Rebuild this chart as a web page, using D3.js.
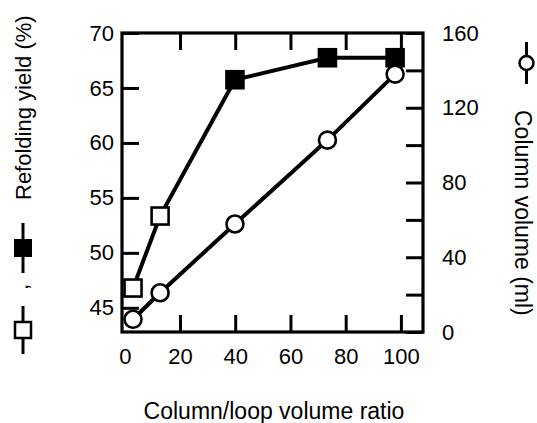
<!DOCTYPE html>
<html>
<head>
<meta charset="utf-8">
<script src="https://cdn.jsdelivr.net/npm/d3@7"></script>
<style>
  body { margin: 0; background: #fff; }
  text { font-family: "Liberation Sans", Arial, Helvetica, sans-serif; fill: #000; }
</style>
</head>
<body>
<script>
"use strict"

// data
var ratio = [3, 12.8, 39.9, 73.4, 97.9];
var yieldPct = [46.8, 53.35, 65.75, 67.75, 67.75];
var yieldFilled = [false, false, true, true, true];
var columnVolume = [6.8, 21, 57.8, 102.7, 138];

var xTicks = [0, 20, 40, 60, 80, 100];
var yieldTicks = [45, 50, 55, 60, 65, 70];
var volumeTicks = [0, 20, 40, 60, 80, 100, 120, 140, 160];

var W = 537, H = 423;
var plotL = 122, plotR = 423, plotT = 33, plotB = 332;

var svg = d3.select("body").append("svg")
    .attr("width", W)
    .attr("height", H);

var x = d3.scaleLinear().domain([-1, 108]).range([plotL, plotR]);
var yL = d3.scaleLinear().domain([42.8, 70]).range([plotB, plotT]);
var yR = d3.scaleLinear().domain([0, 160]).range([plotB, plotT]);

var tickLen = 17;

function styleAxis(g) {
    g.select(".domain").remove();
    g.selectAll(".tick line").attr("stroke", "#000").attr("stroke-width", 3);
    g.selectAll(".tick text")
        .attr("font-size", "22px")
        .attr("font-family", "'Liberation Sans', Arial, sans-serif")
        .attr("fill", "#000");
}

// bottom axis
svg.append("g")
    .attr("transform", "translate(0," + plotB + ")")
    .call(d3.axisBottom(x).tickValues(xTicks).tickSizeInner(-tickLen).tickSizeOuter(0).tickPadding(16))
    .call(styleAxis)
    .selectAll(".tick line").filter(function(d) { return d == 0; }).remove();

// top axis, ticks only
svg.append("g")
    .attr("transform", "translate(0," + plotT + ")")
    .call(d3.axisTop(x).tickValues(xTicks.slice(1)).tickSizeInner(-tickLen).tickSizeOuter(0).tickFormat(""))
    .call(styleAxis);

// left axis (refolding yield)
svg.append("g")
    .attr("transform", "translate(" + plotL + ",0)")
    .call(d3.axisLeft(yL).tickValues(yieldTicks).tickSizeInner(-tickLen).tickSizeOuter(0).tickPadding(8))
    .call(styleAxis);

// right axis (column volume)
svg.append("g")
    .attr("transform", "translate(" + plotR + ",0)")
    .call(d3.axisRight(yR).tickValues(volumeTicks).tickSizeInner(-tickLen).tickSizeOuter(0).tickPadding(19)
        .tickFormat(function(d) { return d % 40 == 0 ? d : ""; }))
    .call(styleAxis);

// frame
svg.append("rect")
    .attr("x", plotL)
    .attr("y", plotT)
    .attr("width", plotR - plotL)
    .attr("height", plotB - plotT)
    .attr("fill", "none")
    .attr("stroke", "#000")
    .attr("stroke-width", 3.2);

// yield series
var yieldLine = d3.line()
    .x(function(d, i) { return x(ratio[i]); })
    .y(function(d) { return yL(d); });

svg.append("path")
    .datum(yieldPct)
    .attr("d", yieldLine)
    .attr("fill", "none")
    .attr("stroke", "#000")
    .attr("stroke-width", 4);

var sq = 17;
svg.selectAll(".sq")
    .data(yieldPct)
  .enter().append("rect")
    .attr("class", "sq")
    .attr("x", function(d, i) { return x(ratio[i]) - sq / 2; })
    .attr("y", function(d) { return yL(d) - sq / 2; })
    .attr("width", sq)
    .attr("height", sq)
    .attr("fill", function(d, i) { return yieldFilled[i] ? "#000" : "#fff"; })
    .attr("stroke", "#000")
    .attr("stroke-width", 2.6);

// column volume series
var volLine = d3.line()
    .x(function(d, i) { return x(ratio[i]); })
    .y(function(d) { return yR(d); });

svg.append("path")
    .datum(columnVolume)
    .attr("d", volLine)
    .attr("fill", "none")
    .attr("stroke", "#000")
    .attr("stroke-width", 4);

svg.selectAll(".circ")
    .data(columnVolume)
  .enter().append("circle")
    .attr("class", "circ")
    .attr("cx", function(d, i) { return x(ratio[i]); })
    .attr("cy", function(d) { return yR(d); })
    .attr("r", 8.5)
    .attr("fill", "#fff")
    .attr("stroke", "#000")
    .attr("stroke-width", 2.6);

// x axis title
svg.append("text")
    .attr("x", (plotL + plotR) / 2 + 1.5)
    .attr("y", 419)
    .attr("text-anchor", "middle")
    .attr("font-size", "23px")
    .text("Column/loop volume ratio");

// left title with legend symbols
svg.append("text")
    .attr("transform", "translate(31,200) rotate(-90)")
    .attr("text-anchor", "start")
    .attr("font-size", "22px")
    .text("Refolding yield (%)");

function legendSymbol(cx, cy, half, draw) {
    svg.append("line")
        .attr("x1", cx).attr("x2", cx)
        .attr("y1", cy - half).attr("y2", cy + half)
        .attr("stroke", "#000")
        .attr("stroke-width", 3);
    draw(cx, cy);
}

legendSymbol(23, 248, 25, function(cx, cy) {
    svg.append("rect")
        .attr("x", cx - 9).attr("y", cy - 9)
        .attr("width", 18).attr("height", 18)
        .attr("fill", "#000");
});

svg.append("text")
    .attr("transform", "translate(28,290) rotate(-90)")
    .attr("font-size", "22px")
    .text(",");

legendSymbol(23, 330, 24, function(cx, cy) {
    svg.append("rect")
        .attr("x", cx - 8).attr("y", cy - 8)
        .attr("width", 16).attr("height", 16)
        .attr("fill", "#fff")
        .attr("stroke", "#000")
        .attr("stroke-width", 2.5);
});

// right title with legend symbol
legendSymbol(526.5, 63, 21, function(cx, cy) {
    svg.append("circle")
        .attr("cx", cx).attr("cy", cy)
        .attr("r", 7)
        .attr("fill", "#fff")
        .attr("stroke", "#000")
        .attr("stroke-width", 2.5);
});

svg.append("text")
    .attr("transform", "translate(515,110) rotate(90)")
    .attr("text-anchor", "start")
    .attr("font-size", "23px")
    .text("Column volume (ml)");
</script>
</body>
</html>
